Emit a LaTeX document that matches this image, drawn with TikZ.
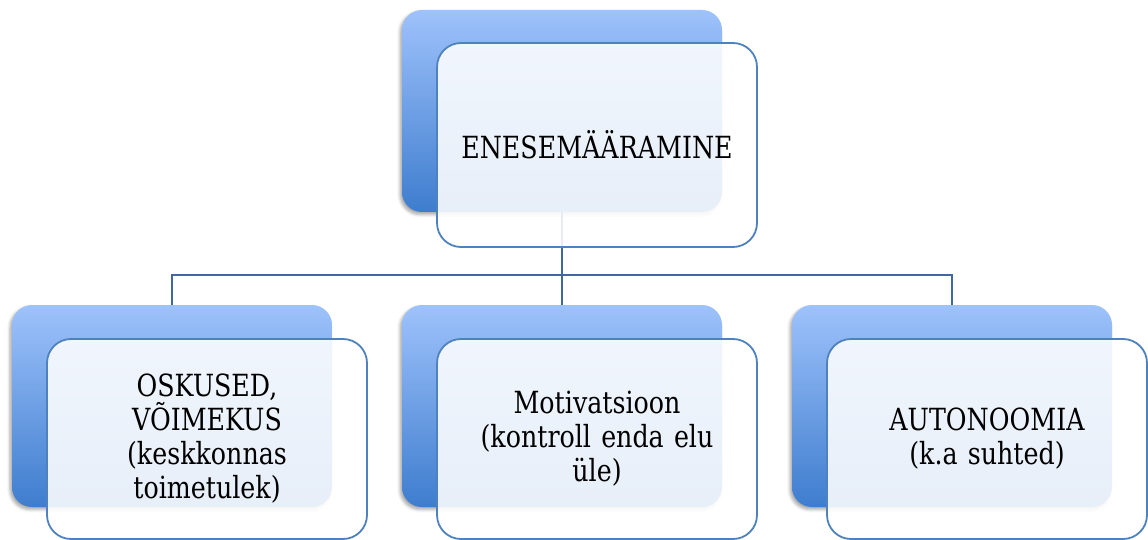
\documentclass[tikz,border=0pt]{standalone}
\usepackage{fontspec}
\setmainfont{DejaVu Serif}[FakeStretch=0.83]
\usetikzlibrary{shadows.blur}
\definecolor{backtop}{HTML}{9EC2FB}
\definecolor{backbot}{HTML}{3E7DCE}
\definecolor{frontline}{HTML}{4F81BD}
\definecolor{conn}{HTML}{41679E}
\tikzset{
  backbox/.style={rounded corners=20pt, minimum width=320pt, minimum height=202pt,
    top color=backtop, bottom color=backbot, draw=none, inner sep=0pt,
    blur shadow={shadow xshift=-2pt, shadow yshift=-2.5pt, shadow blur radius=3pt, shadow opacity=35}},
  frontbox/.style={rounded corners=24pt, minimum width=320pt, minimum height=#1,
    draw=frontline, line width=1.8pt, fill=white, fill opacity=0.88, text opacity=1,
    align=center, inner sep=4pt, text width=300pt,
    font=\fontsize{30.5}{34}\selectfont},
  frontbox/.default=202pt,
  link/.style={draw=conn, line width=2.2pt}
}
\begin{document}
\begin{tikzpicture}[x=1pt,y=-1pt]
\useasboundingbox (0,0) rectangle (1148,540);
% back boxes
\node[backbox] (tb) at (562,111) {};
\node[backbox] (lb) at (172,406) {};
\node[backbox] (mb) at (562,406) {};
\node[backbox] (rb) at (952,406) {};
% connectors
\coordinate (j) at (562,275);
\draw[link] (tb.south) -- (j);
\draw[link] (j) -| (lb.north);
\draw[link] (j) -- (mb.north);
\draw[link] (j) -| (rb.north);
% front boxes
\node[frontbox=204pt] (tf) at (597,145) {ENESEMÄÄRAMINE};
\node[frontbox=200pt] (lf) at (207,439) {OSKUSED,\\VÕIMEKUS\\(keskkonnas\\toimetulek)};
\node[frontbox=200pt] (mf) at (597,439) {Motivatsioon\\(kontroll enda elu\\üle)};
\node[frontbox=200pt] (rf) at (987,439) {AUTONOOMIA\\(k.a suhted)};
\end{tikzpicture}
\end{document}
